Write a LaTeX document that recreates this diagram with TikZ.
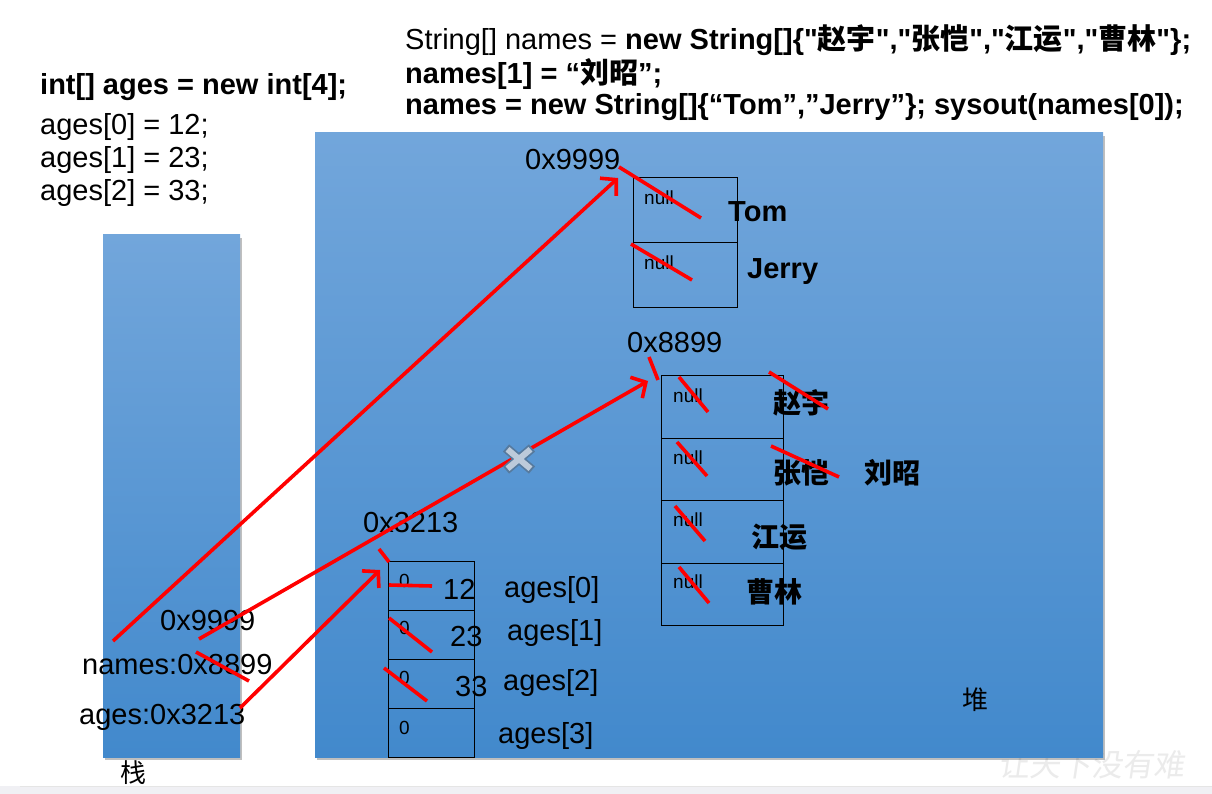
\documentclass[tikz,border=0pt]{standalone}
\usepackage{fontspec}
\setmainfont{Liberation Sans}[Ligatures=TeXOff]
\newfontfamily\cjk{Noto Sans CJK SC}
\usetikzlibrary{arrows.meta,shadows}
\definecolor{blueTop}{RGB}{114,166,219}
\definecolor{blueBot}{RGB}{66,137,204}
\definecolor{xedge}{RGB}{86,122,158}
\definecolor{xfill}{RGB}{188,202,218}
\definecolor{bandgray}{RGB}{240,240,244}
\begin{document}
\begin{tikzpicture}[x=1pt,y=-1pt,
  big/.style={inner sep=0pt,anchor=west,font=\fontsize{29}{33}\selectfont},
  bigb/.style={big,font=\fontsize{29}{33}\selectfont\bfseries},
  cjkb/.style={big,font=\cjk\fontsize{28}{33}\selectfont\bfseries},
  small/.style={inner sep=0pt,anchor=west,font=\fontsize{19}{22}\selectfont},
  mem/.style={top color=blueTop,bottom color=blueBot,
    drop shadow={shadow xshift=2pt,shadow yshift=-3pt,fill=black,opacity=0.25}},
  cell/.style={draw=black,line width=1.3pt,inner sep=0pt,anchor=north west},
  redl/.style={draw=red,line width=3.6pt},
  reda/.style={redl,-{Straight Barb[length=11pt,width=24pt]}}]
\useasboundingbox (0,0) rectangle (1212,794);
\fill[white] (0,0) rectangle (1212,794);
\fill[bandgray] (0,786) rectangle (1212,794);
\draw[gray!20,line width=0.8pt] (20,786) -- (1212,786);
% watermark
\node[inner sep=0pt,anchor=west,text=gray!16,font=\cjk\fontsize{31}{31}\selectfont,xslant=0.15] (wm) at (1000,765) {让天下没有难};

% memory areas
\path[mem] (103,235) rectangle (240,757);
\path[mem] (315,133) rectangle (1103,757);

% top-left code
\node[bigb] (c0) at (40,87) {int[] ages = new int[4];};
\node[big] (c1) at (40,127) {ages[0] = 12;};
\node[big] (c2) at (40,160) {ages[1] = 23;};
\node[big] (c3) at (40,193) {ages[2] = 33;};

% top code
\node[big] (d1) at (405,40) {String[] names = {\bfseries new String[]\{"{\cjk 赵宇}","{\cjk 张恺}","{\cjk 江运}","{\cjk 曹林}"\};}};
\node[bigb] (d2) at (405,74) {names[1] = “{\cjk 刘昭}”;};
\node[bigb] (d3) at (405,107) {names = new String[]\{“Tom”,”Jerry”\}; sysout(names[0]);};

% Tom/Jerry array
\node[cell,minimum width=104pt,minimum height=65pt] (t0) at (633,177) {};
\node[cell,minimum width=104pt,minimum height=65pt] (t1) at (633,242) {};
\node[big] (a9) at (525,160) {0x9999};
\node[small] (tn0) at (644,198) {null};
\node[small] (tn1) at (644,263) {null};
\node[bigb] (tom) at (728,212) {Tom};
\node[bigb] (jerry) at (747,272) {Jerry};

% names array
\node[cell,minimum width=122pt,minimum height=62.5pt] (n0) at (661,375) {};
\node[cell,minimum width=122pt,minimum height=62.5pt] (n1) at (661,437.5) {};
\node[cell,minimum width=122pt,minimum height=62.5pt] (n2) at (661,500) {};
\node[cell,minimum width=122pt,minimum height=62.5pt] (n3) at (661,562.5) {};
\node[big] (a8) at (627,343) {0x8899};
\node[small] (nn0) at (673,396) {null};
\node[small] (nn1) at (673,458) {null};
\node[small] (nn2) at (673,520) {null};
\node[small] (nn3) at (673,582) {null};
\node[cjkb] (zy) at (773,403) {赵宇};
\node[cjkb] (zk) at (773,473) {张恺};
\node[cjkb] (lz) at (864,473) {刘昭};
\node[cjkb] (jy) at (751,537) {江运};
\node[cjkb] (cl) at (746,592) {曹林};

% ages array
\node[cell,minimum width=86pt,minimum height=49pt] (g0) at (388,561) {};
\node[cell,minimum width=86pt,minimum height=49pt] (g1) at (388,610) {};
\node[cell,minimum width=86pt,minimum height=49pt] (g2) at (388,659) {};
\node[cell,minimum width=86pt,minimum height=49pt] (g3) at (388,708) {};
\node[big] (a3) at (363,523) {0x3213};
\node[small] (z0) at (399,581) {0};
\node[small] (z1) at (399,628) {0};
\node[small] (z2) at (399,678) {0};
\node[small] (z3) at (399,728) {0};
\node[big] (v0) at (443,589) {12};
\node[big] (v1) at (450,637) {23};
\node[big] (v2) at (455,687) {33};
\node[big] (l0) at (504,590) {ages[0]};
\node[big] (l1) at (507,633) {ages[1]};
\node[big] (l2) at (503,683) {ages[2]};
\node[big] (l3) at (498,736) {ages[3]};

% stack labels
\node[big] (s9) at (160,621) {0x9999};
\node[big] (s8) at (82,665) {names:0x8899};
\node[big] (s3) at (79,717) {ages:0x3213};
\node[inner sep=0pt,font=\cjk\fontsize{26}{30}\selectfont] (zhan) at (133,773) {栈};
\node[inner sep=0pt,font=\cjk\fontsize{26}{30}\selectfont] (dui) at (975,700) {堆};

% connector end points
\coordinate (p1s) at (113,641); \coordinate (p1e) at (618,178);
\coordinate (p2s) at (199,639); \coordinate (p2e) at (648,381);
\coordinate (p3s) at (240,708); \coordinate (p3e) at (380,570);

% X mark on the old reference
\coordinate (xm) at (519,459);

% arrows
\draw[reda] (p1s) -- (p1e);
\draw[reda] (p2s) -- (p2e);
\draw[reda] (p3s) -- (p3e);

% cross
\draw[xedge,line width=9.5pt] ([shift={(-13,-11)}]xm) -- ([shift={(13,11)}]xm)
  ([shift={(13,-11)}]xm) -- ([shift={(-13,11)}]xm);
\draw[xfill,line width=6pt] ([shift={(-11.5,-9.7)}]xm) -- ([shift={(11.5,9.7)}]xm)
  ([shift={(11.5,-9.7)}]xm) -- ([shift={(-11.5,9.7)}]xm);

% strike-outs
\draw[redl] (619,167) -- (701,218);
\draw[redl] (631,244) -- (692,280);
\draw[redl] (649,357) -- (658,380);
\draw[redl] (679,377) -- (708,412);
\draw[redl] (677,442) -- (707,476);
\draw[redl] (675,506) -- (705,541);
\draw[redl] (679,567) -- (709,603);
\draw[redl] (769,372) -- (828,409);
\draw[redl] (771,446) -- (839,477);
\draw[redl] (196,652) -- (249,681);
\draw[redl] (379,549) -- (389,562);
\draw[redl] (389,585) -- (432,586);
\draw[redl] (389,618) -- (432,652);
\draw[redl] (384,668) -- (427,701);
\end{tikzpicture}
\end{document}
